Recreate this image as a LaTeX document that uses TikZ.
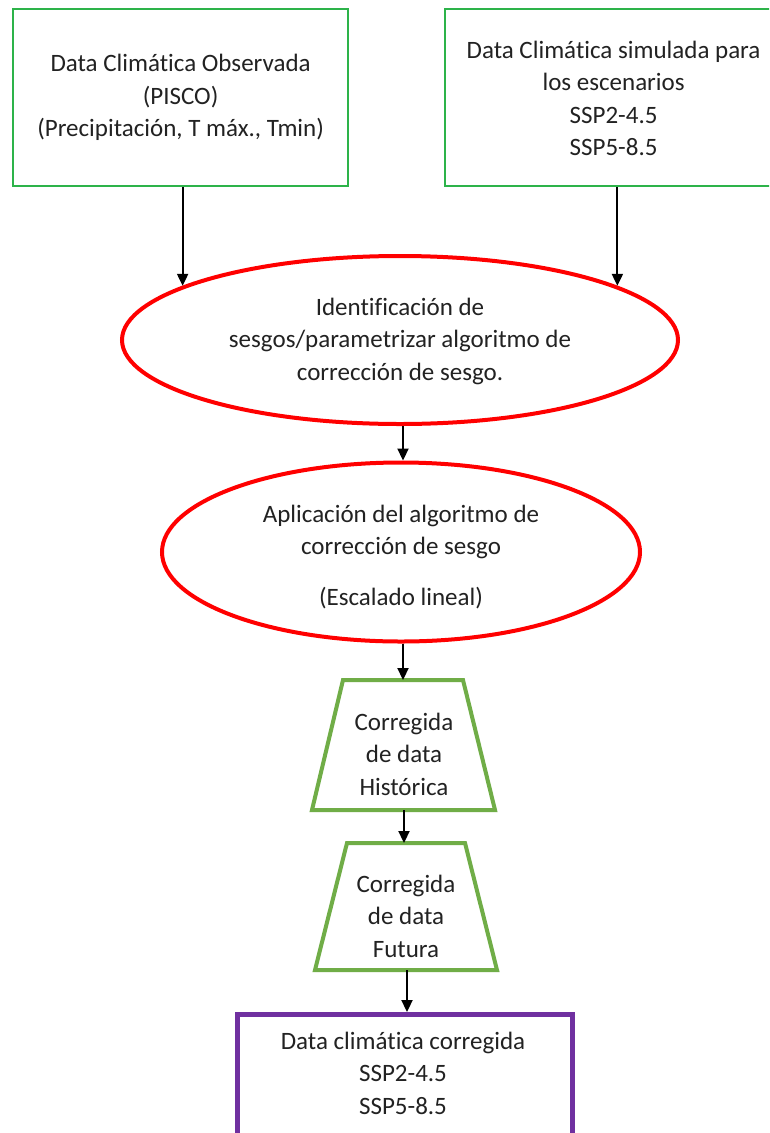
\documentclass[tikz,border=0pt]{standalone}
\usepackage{fontspec}
\setmainfont[Ligatures=NoCommon]{Carlito}
\usetikzlibrary{arrows.meta,shapes.geometric}
\definecolor{boxgreen}{HTML}{2DB34A}
\definecolor{trapgreen}{HTML}{70AD47}
\definecolor{ovalred}{HTML}{FF0000}
\definecolor{boxpurple}{HTML}{7030A0}
\definecolor{txt}{HTML}{222222}
\tikzset{
  x=1pt,y=1pt,
  lbl/.style={text=txt,align=center,inner sep=0pt,font=\fontsize{25}{32.5}\selectfont},
  inbox/.style={draw=boxgreen,line width=2.2pt},
  oval/.style={draw=ovalred,line width=4pt,ellipse,inner sep=0pt},
  trap/.style={draw=trapgreen,line width=4pt},
  outbox/.style={draw=boxpurple,line width=5pt},
  arr/.style={draw=black,line width=2.2pt,-{Triangle[width=11pt,length=12pt]}}
}
\begin{document}
\begin{tikzpicture}
\clip (0,0) rectangle (769,-1133);
\fill[white] (0,0) rectangle (769,-1133);
% input boxes
\node[inbox,minimum width=335pt,minimum height=177pt,anchor=north west] (b1) at (12,-8) {};
\node[lbl] (b1t) at (b1.center) {Data Climática Observada\\(PISCO)\\(Precipitación, T máx., Tmin)};
\node[inbox,minimum width=337pt,minimum height=177pt,anchor=north west] (b2) at (444,-8) {};
\node[lbl] (b2t) at ([xshift=0pt,yshift=-1pt]b2.center) {Data Climática simulada para\\los escenarios\\SSP2-4.5\\SSP5-8.5};
% ellipses
\node[oval,minimum width=556pt,minimum height=168pt] (e1) at (400,-340) {};
\node[lbl] (e1t) at (400,-341) {Identificación de\\sesgos/parametrizar algoritmo de\\corrección de sesgo.};
\node[oval,minimum width=478pt,minimum height=179pt] (e2) at (401,-552) {};
\node[lbl] (e2t) at (401,-557) {Aplicación del algoritmo de\\corrección de sesgo\\[18pt](Escalado lineal)};
% trapezoids
\coordinate (t1top) at (403,-680);
\coordinate (t1bot) at (404,-810);
\draw[trap,line join=miter] (343,-680) -- (463,-680) -- (495,-810) -- (312,-810) -- cycle;
\node[lbl] (t1) at (404,-754) {Corregida\\de data\\Histórica};
\coordinate (t2top) at (406,-843);
\coordinate (t2bot) at (407,-970);
\draw[trap,line join=miter] (347,-843) -- (465,-843) -- (497,-970) -- (315,-970) -- cycle;
\node[lbl] (t2) at (406,-916) {Corregida\\de data\\Futura};
% output box
\node[outbox,minimum width=335pt,minimum height=160pt,anchor=north west] (p) at (235,-1012) {};
\node[lbl] (pt) at (403,-1073) {Data climática corregida\\SSP2-4.5\\SSP5-8.5};
% connectors
\draw[arr] (e1.166.4 |- b1.south) -- (e1.166.4);
\draw[arr] (e1.14 |- b2.south) -- (e1.14);
\draw[arr] (e1.south -| 403,0) -- (e2.north -| 403,0);
\draw[arr] (e2.south -| t1top) -- (t1top);
\draw[arr] (t1bot) -- (t2top -| t1bot);
\draw[arr] (t2bot) -- (p.north -| t2bot);
\end{tikzpicture}
\end{document}
